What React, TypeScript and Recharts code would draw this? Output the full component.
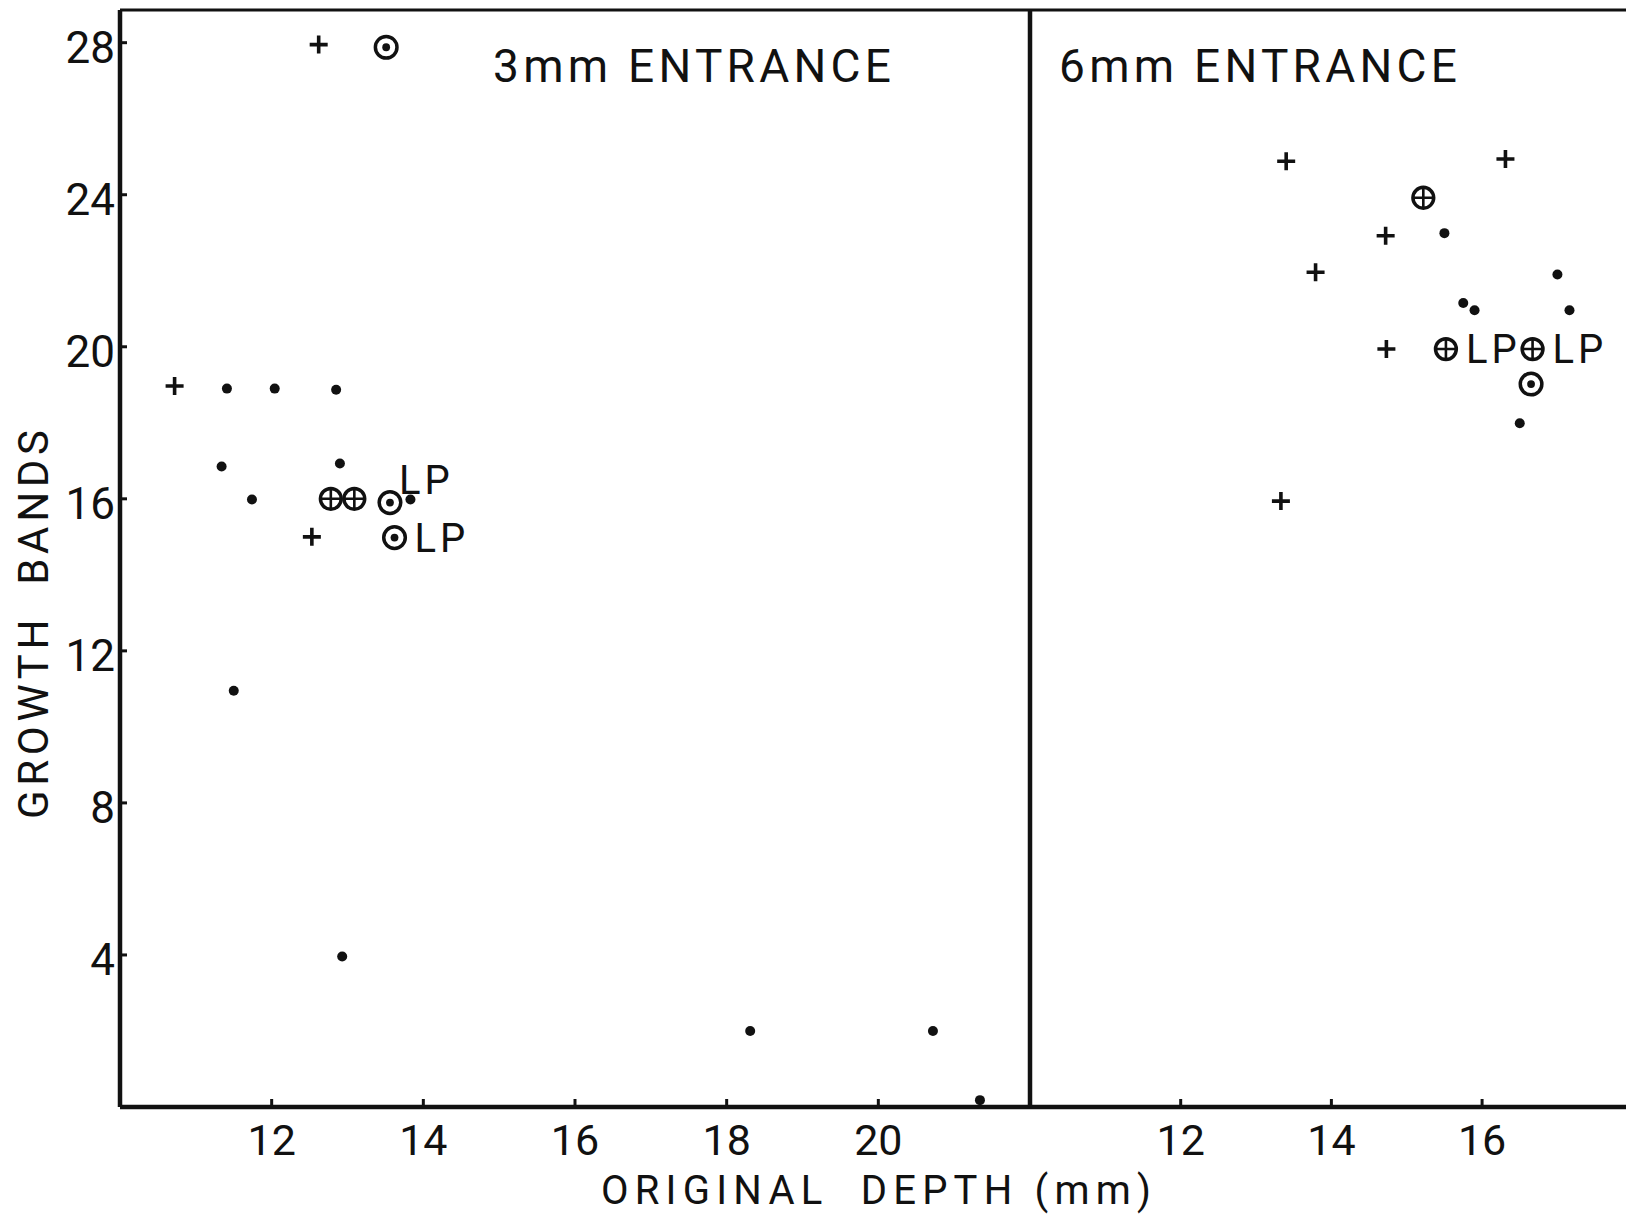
import React from 'react';
import { ScatterChart, Scatter, XAxis, YAxis, ReferenceLine } from 'recharts';

// ---------- axes / labels ----------
const Y_MAX = 28.86;
const LEFT_X_DOMAIN: [number, number] = [10, 22];
const RIGHT_X_DOMAIN: [number, number] = [10, 17.91];
const Y_TICKS = [4, 8, 12, 16, 20, 24, 28];
const LEFT_X_TICKS = [12, 14, 16, 18, 20];
const RIGHT_X_TICKS = [12, 14, 16];
const PANEL_TITLES = ['3mm ENTRANCE', '6mm ENTRANCE'];
const X_TITLE = 'ORIGINAL  DEPTH (mm)';
const Y_TITLE = 'GROWTH  BANDS';
const LP = 'LP';

// ---------- 3mm entrance ----------
const leftPlus = [
  { x: 12.62, y: 27.95 },
  { x: 10.72, y: 18.97 },
  { x: 12.53, y: 15.0 },
];
const leftDot = [
  { x: 11.41, y: 18.9 },
  { x: 12.04, y: 18.9 },
  { x: 12.85, y: 18.87 },
  { x: 11.34, y: 16.85 },
  { x: 12.9, y: 16.93 },
  { x: 11.74, y: 15.98 },
  { x: 13.83, y: 15.98 },
  { x: 11.5, y: 10.95 },
  { x: 12.93, y: 3.96 },
  { x: 18.31, y: 2.0 },
  { x: 20.72, y: 2.0 },
  { x: 21.34, y: 0.18 },
];
const leftCircledPlus = [
  { x: 12.78, y: 16.0 },
  { x: 13.09, y: 16.0 },
];
const leftCircledDot = [
  { x: 13.51, y: 27.88 },
  { x: 13.56, y: 15.9, note: LP },
  { x: 13.62, y: 14.98, note: LP },
];

// ---------- 6mm entrance ----------
const rightPlus = [
  { x: 13.4, y: 24.88 },
  { x: 16.31, y: 24.94 },
  { x: 14.72, y: 22.92 },
  { x: 13.79, y: 21.96 },
  { x: 14.73, y: 19.94 },
  { x: 13.33, y: 15.94 },
];
const rightDot = [
  { x: 15.5, y: 22.99 },
  { x: 17.0, y: 21.9 },
  { x: 15.75, y: 21.15 },
  { x: 15.9, y: 20.96 },
  { x: 17.16, y: 20.96 },
  { x: 16.5, y: 17.99 },
];
const rightCircledPlus = [
  { x: 15.22, y: 23.92 },
  { x: 15.52, y: 19.94, note: LP },
  { x: 16.67, y: 19.94, note: LP },
];
const rightCircledDot = [{ x: 16.65, y: 19.02 }];

const RAISED_LP = leftCircledDot[1];

const FONT = "Roboto, 'DejaVu Sans', sans-serif";
const INK = '#111';
const WEIGHT = 400;

const LpText = ({ cx, cy, payload }: any) => {
  if (!payload || !payload.note) return null;
  const raised = payload.x === RAISED_LP.x && payload.y === RAISED_LP.y;
  return (
    <text
      x={raised ? cx + 9 : cx + 20}
      y={raised ? cy - 9 : cy + 14}
      fontSize={40}
      fontFamily={FONT}
      fontWeight={WEIGHT}
      letterSpacing={4}
      fill={INK}
    >
      {payload.note}
    </text>
  );
};

const PlusMark = ({ cx, cy }: any) => (
  <path
    d={`M${cx - 9},${cy}H${cx + 9}M${cx},${cy - 9}V${cy + 9}`}
    stroke={INK}
    strokeWidth={3.6}
    fill="none"
  />
);

const DotMark = ({ cx, cy }: any) => <circle cx={cx} cy={cy} r={5} fill={INK} />;

const CircledDotMark = (p: any) => (
  <g>
    <circle cx={p.cx} cy={p.cy} r={10.8} fill="#fff" stroke={INK} strokeWidth={3.5} />
    <circle cx={p.cx} cy={p.cy} r={3.9} fill={INK} />
    <LpText {...p} />
  </g>
);

const CircledPlusMark = (p: any) => (
  <g>
    <circle cx={p.cx} cy={p.cy} r={10.4} fill="none" stroke={INK} strokeWidth={3.5} />
    <path
      d={`M${p.cx - 10.4},${p.cy}H${p.cx + 10.4}M${p.cx},${p.cy - 10.4}V${p.cy + 10.4}`}
      stroke={INK}
      strokeWidth={2.6}
    />
    <LpText {...p} />
  </g>
);

const XTick = ({ x, y, payload }: any) => (
  <g>
    <line x1={x} x2={x} y1={y} y2={y - 8} stroke={INK} strokeWidth={3} />
    <text x={x} y={y + 48} textAnchor="middle" fontSize={43} fontFamily={FONT} fontWeight={WEIGHT} fill={INK}>
      {payload.value}
    </text>
  </g>
);

const YTick = ({ x, y, payload }: any) => (
  <g>
    <line x1={x} x2={x + 7} y1={y} y2={y} stroke={INK} strokeWidth={3} />
    <text x={x - 5} y={y + 20} textAnchor="end" fontSize={44} fontFamily={FONT} fontWeight={WEIGHT} fill={INK}>
      {payload.value}
    </text>
  </g>
);

const axisLine = { stroke: INK, strokeWidth: 4.5 };
const titleStyle = { whiteSpace: 'pre' as const };

export default function App() {
  return (
    <div style={{ position: 'absolute', left: 0, top: 0, width: 1626, height: 1216, background: '#fff', overflow: 'hidden' }}>
      <div style={{ position: 'absolute', left: 0, top: 0 }}>
        <ScatterChart width={1626} height={1216} margin={{ top: 10, right: 596, bottom: 49, left: 60 }}>
          <XAxis
            type="number"
            dataKey="x"
            domain={LEFT_X_DOMAIN}
            ticks={LEFT_X_TICKS}
            allowDataOverflow
            height={60}
            axisLine={axisLine}
            tickLine={false}
            tickSize={0}
            tickMargin={0}
            tick={<XTick />}
          />
          <YAxis
            type="number"
            dataKey="y"
            domain={[0, Y_MAX]}
            ticks={Y_TICKS}
            allowDataOverflow
            width={60}
            axisLine={axisLine}
            tickLine={false}
            tickSize={0}
            tickMargin={0}
            tick={<YTick />}
          />
          <ReferenceLine y={Y_MAX} stroke={INK} strokeWidth={3} />
          <Scatter data={leftDot} shape={DotMark} isAnimationActive={false} />
          <Scatter data={leftPlus} shape={PlusMark} isAnimationActive={false} />
          <Scatter data={leftCircledPlus} shape={CircledPlusMark} isAnimationActive={false} />
          <Scatter data={leftCircledDot} shape={CircledDotMark} isAnimationActive={false} />
          <text x={493} y={82} fontSize={46} fontFamily={FONT} fontWeight={WEIGHT} fill={INK} textLength={398} lengthAdjust="spacing" style={titleStyle}>
            {PANEL_TITLES[0]}
          </text>
          <text x={876} y={1204} textAnchor="middle" fontSize={40} fontFamily={FONT} fontWeight={WEIGHT} fill={INK} textLength={550} lengthAdjust="spacing" style={titleStyle}>
            {X_TITLE}
          </text>
          <text
            x={0}
            y={0}
            transform="translate(48,624.5) rotate(-90)"
            textAnchor="middle"
            fontSize={42}
            fontFamily={FONT}
            fontWeight={WEIGHT}
            fill={INK}
            textLength={389}
            lengthAdjust="spacing"
            style={titleStyle}
          >
            {Y_TITLE}
          </text>
        </ScatterChart>
      </div>
      <div style={{ position: 'absolute', left: 970, top: 0 }}>
        <ScatterChart width={656} height={1216} margin={{ top: 10, right: 0, bottom: 49, left: 0 }}>
          <XAxis
            type="number"
            dataKey="x"
            domain={RIGHT_X_DOMAIN}
            ticks={RIGHT_X_TICKS}
            allowDataOverflow
            height={60}
            axisLine={axisLine}
            tickLine={false}
            tickSize={0}
            tickMargin={0}
            tick={<XTick />}
          />
          <YAxis
            type="number"
            dataKey="y"
            domain={[0, Y_MAX]}
            ticks={Y_TICKS}
            allowDataOverflow
            width={60}
            axisLine={axisLine}
            tickLine={false}
            tick={false}
          />
          <ReferenceLine y={Y_MAX} stroke={INK} strokeWidth={3} />
          <Scatter data={rightDot} shape={DotMark} isAnimationActive={false} />
          <Scatter data={rightPlus} shape={PlusMark} isAnimationActive={false} />
          <Scatter data={rightCircledPlus} shape={CircledPlusMark} isAnimationActive={false} />
          <Scatter data={rightCircledDot} shape={CircledDotMark} isAnimationActive={false} />
          <text x={89} y={82} fontSize={46} fontFamily={FONT} fontWeight={WEIGHT} fill={INK} textLength={398} lengthAdjust="spacing" style={titleStyle}>
            {PANEL_TITLES[1]}
          </text>
        </ScatterChart>
      </div>
    </div>
  );
}
